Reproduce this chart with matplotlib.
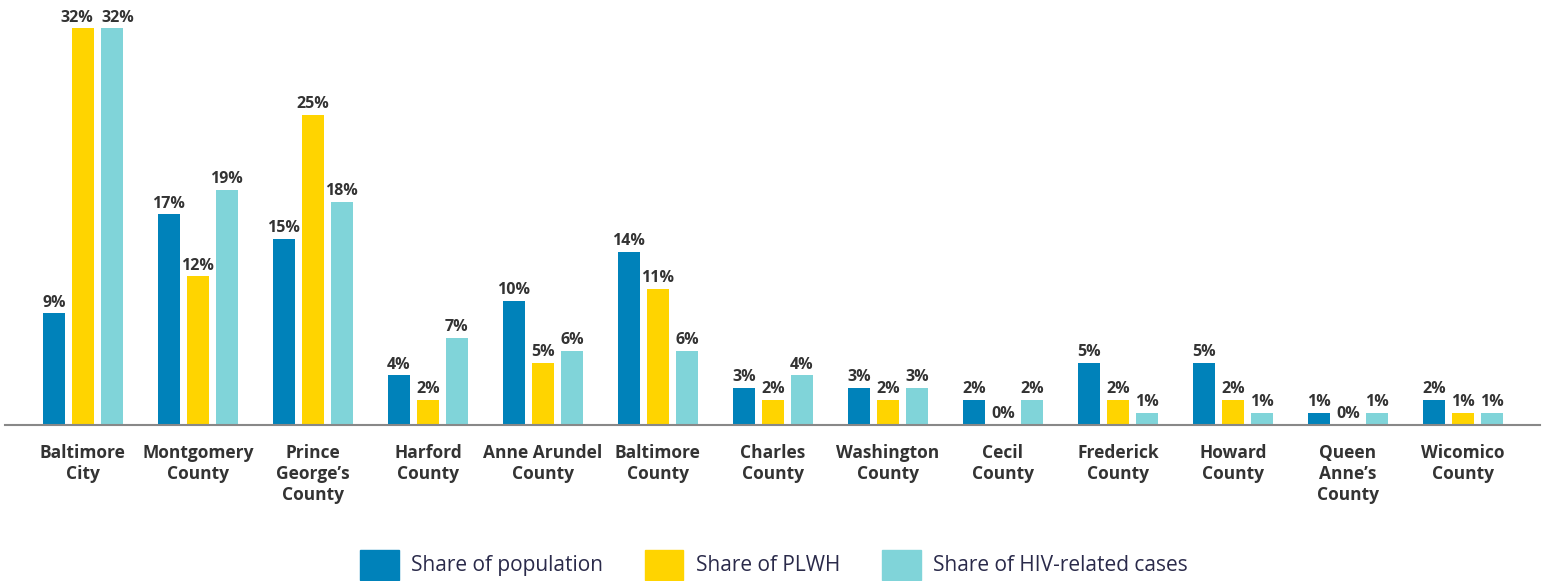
import matplotlib.pyplot as plt
from matplotlib.patches import Patch
import numpy as np

plt.rcParams['font.family'] = ['Open Sans', 'DejaVu Sans']

counties = ['Baltimore\nCity', 'Montgomery\nCounty', 'Prince\nGeorge\u2019s\nCounty', 'Harford\nCounty',
            'Anne Arundel\nCounty', 'Baltimore\nCounty', 'Charles\nCounty', 'Washington\nCounty',
            'Cecil\nCounty', 'Frederick\nCounty', 'Howard\nCounty', 'Queen\nAnne\u2019s\nCounty',
            'Wicomico\nCounty']
population = [9, 17, 15, 4, 10, 14, 3, 3, 2, 5, 5, 1, 2]
plwh = [32, 12, 25, 2, 5, 11, 2, 2, 0, 2, 2, 0, 1]
hiv_cases = [32, 19, 18, 7, 6, 6, 4, 3, 2, 1, 1, 1, 1]

series = [('Share of population', population, '#0082ba'),
          ('Share of PLWH', plwh, '#ffd400'),
          ('Share of HIV-related cases', hiv_cases, '#80d4d9')]

fig = plt.figure(figsize=(15.48, 5.81), dpi=100)
ax = fig.add_axes([0.0032, 0.2685, 0.9916, 0.7145])

x = np.arange(len(counties))
w = 0.191
step = 0.252
allvals = [s[1] for s in series]
for i, (name, vals, col) in enumerate(series):
    pos = x + (i - 1) * step
    ax.bar(pos, vals, width=w, color=col, label=name)
    for g, (px, v) in enumerate(zip(pos, vals)):
        # push wide labels apart when a neighbour sits at the same height
        dx = 0
        if v >= 10:
            if i > 0 and allvals[i - 1][g] == v:
                dx += 4.5
            if i < 2 and allvals[i + 1][g] == v:
                dx -= 4.5
        ax.annotate(f'{v}%', (px, v), xytext=(dx, 2), textcoords='offset points',
                    ha='center', va='bottom', fontsize=11.5, fontweight='bold', color='#333333')

ax.set_xlim(-0.678, 12.67)
ax.set_ylim(0, 33.5)
ax.set_yticks([])
ax.set_xticks(x)
ax.set_xticklabels(counties, fontsize=12.5, fontweight='bold', color='#333333', linespacing=1.2)
ax.tick_params(axis='x', length=0, pad=14)
for s in ['top', 'right', 'left']:
    ax.spines[s].set_visible(False)
ax.spines['bottom'].set_color('#888888')
ax.spines['bottom'].set_linewidth(1.5)

handles = [Patch(color=c, label=n) for n, v, c in series]
fig.legend(handles=handles, loc='lower center', bbox_to_anchor=(0.5, -0.03), ncol=3,
           frameon=False, fontsize=15, handlelength=1.85, handleheight=1.85,
           handletextpad=0.6, columnspacing=2.0, labelcolor='#2a2a4a')

fig.savefig('out.png', dpi=100)
